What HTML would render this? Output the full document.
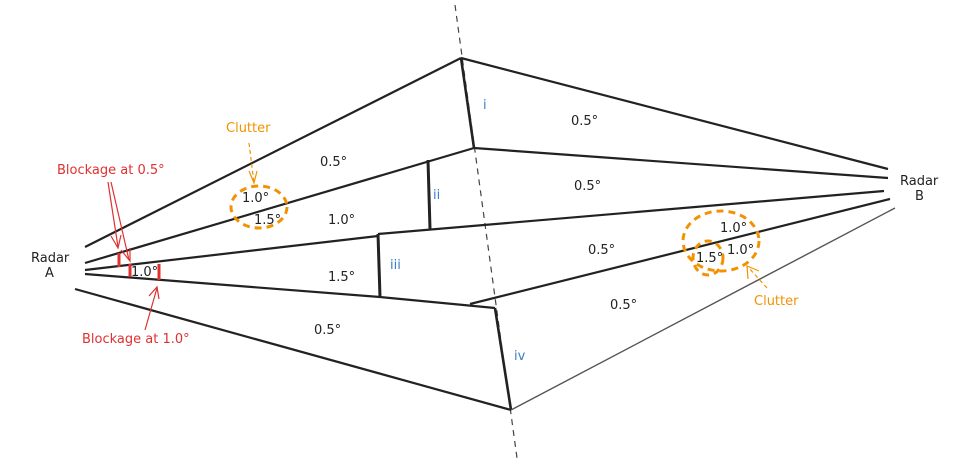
<!DOCTYPE html>
<html><head><meta charset="utf-8"><style>
html,body{margin:0;padding:0;background:#fff;width:960px;height:463px;overflow:hidden}
svg text{font-family:"DejaVu Sans","Liberation Sans",sans-serif;font-size:13px}
</style></head><body>
<svg width="960" height="463" viewBox="0 0 960 463" xmlns="http://www.w3.org/2000/svg">
<line x1="455" y1="5" x2="517" y2="458" stroke="#444" stroke-width="1.2" stroke-dasharray="6,5"/>
<g stroke="#222" stroke-width="2.2" fill="none">
<line x1="85" y1="247" x2="461" y2="58"/>
<line x1="85" y1="263" x2="474" y2="148"/>
<polyline points="85,270 378,236"/>
<line x1="378" y1="234" x2="884" y2="191"/>
<polyline points="85,274 380,297 495,308"/>
<line x1="470" y1="304" x2="890" y2="199"/>
<line x1="75" y1="289" x2="511" y2="410"/>
<line x1="461" y1="58" x2="888" y2="169"/>
<line x1="474" y1="148" x2="888" y2="178"/>
<line x1="461" y1="58" x2="474" y2="148" stroke-width="2.6"/>
<line x1="428" y1="160" x2="430" y2="229" stroke-width="3"/>
<line x1="378" y1="234" x2="380" y2="297" stroke-width="3"/>
<line x1="495" y1="308" x2="511" y2="410" stroke-width="2.6"/>
</g>
<line x1="511" y1="410" x2="895" y2="208" stroke="#555" stroke-width="1.4"/>
<g stroke="#e03030" stroke-width="3">
<line x1="119" y1="253" x2="119" y2="267"/>
<line x1="130" y1="264" x2="130" y2="277"/>
<line x1="159" y1="264" x2="159" y2="280"/>
</g>
<g stroke="#e03030" stroke-width="1.2" fill="none">
<line x1="108" y1="182" x2="118" y2="247"/>
<polyline points="111,236 118,248 121,235"/>
<line x1="111" y1="182" x2="129" y2="260"/>
<polyline points="121,250 130,261 130,248"/>
<line x1="145" y1="330" x2="157" y2="288"/>
<polyline points="149,296 157,287 159,299"/>
</g>
<ellipse cx="259" cy="207" rx="28" ry="21" fill="none" stroke="#f39200" stroke-width="3" stroke-dasharray="7,5"/>
<ellipse cx="721" cy="241" rx="38" ry="30" fill="none" stroke="#f39200" stroke-width="3" stroke-dasharray="7,5"/>
<ellipse cx="708" cy="258" rx="15" ry="17" fill="none" stroke="#f39200" stroke-width="3" stroke-dasharray="7,5"/>
<g stroke="#f39200" stroke-width="1.2" fill="none">
<line x1="249" y1="143" x2="254" y2="183" stroke-dasharray="4,3"/>
<polyline points="249,171 254,183 257,171"/>
<line x1="767" y1="288" x2="748" y2="267" stroke-dasharray="4,3"/>
<polyline points="748,279 747,266 759,271"/>
</g>
<g fill="#e03030">
<text x="57" y="174">Blockage at 0.5°</text>
<text x="82" y="343">Blockage at 1.0°</text>
</g>
<g fill="#f39200">
<text x="226" y="132">Clutter</text>
<text x="754" y="305">Clutter</text>
</g>
<g fill="#3a7fc8">
<text x="483" y="109">i</text>
<text x="433" y="199">ii</text>
<text x="390" y="269">iii</text>
<text x="514" y="360">iv</text>
</g>
<g fill="#222">
<text x="31" y="262">Radar</text>
<text x="45" y="277">A</text>
<text x="900" y="185">Radar</text>
<text x="915" y="200">B</text>
<text x="242" y="202">1.0°</text>
<text x="254" y="224">1.5°</text>
<text x="131" y="276">1.0°</text>
<text x="320" y="166">0.5°</text>
<text x="328" y="224">1.0°</text>
<text x="328" y="281">1.5°</text>
<text x="314" y="334">0.5°</text>
<text x="571" y="125">0.5°</text>
<text x="574" y="190">0.5°</text>
<text x="588" y="254">0.5°</text>
<text x="610" y="309">0.5°</text>
<text x="720" y="232">1.0°</text>
<text x="727" y="254">1.0°</text>
<text x="696" y="262">1.5°</text>
</g>
</svg>
</body></html>
